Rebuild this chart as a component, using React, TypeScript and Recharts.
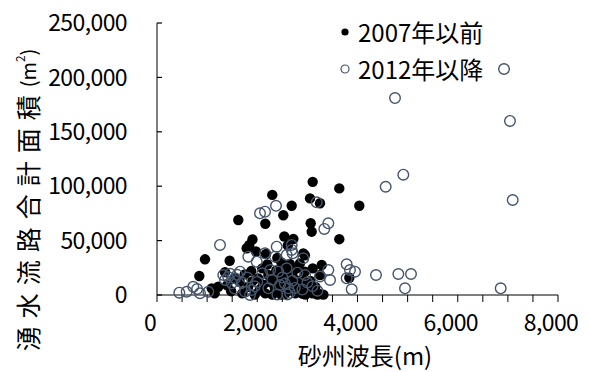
import React from 'react';
import { ScatterChart, Scatter, XAxis, YAxis, Legend, Label } from 'recharts';

const seriesNames = ['2007年以前', '2012年以降'];
const xTitle = '砂州波長(m)';
const yTitle = '湧水流路合計面積';

const before2007: [number, number][] = [
  [3106, 104000], [3637, 98000], [2300, 92000], [3052, 88800], [3252, 84300], [2687, 82000],
  [4036, 82000], [2520, 73300], [1622, 68900], [2161, 65500], [3066, 65900], [3086, 58200],
  [2540, 53800], [2720, 51500], [1905, 51000], [3637, 51300], [1842, 46000], [1789, 43000],
  [1975, 40000], [2175, 37700], [2919, 38300], [2950, 36500], [958, 32800], [1450, 31500],
  [3286, 27600], [2787, 24500], [3106, 24500], [3252, 18400], [3837, 15900], [844, 17500],
  [2221, 18400], [2021, 15300], [1357, 21000], [2610, 45500], [2400, 34000], [2480, 30000],
  [2650, 28500], [2850, 29000], [2560, 25000], [2380, 22500], [2950, 21500], [2700, 19500],
  [1750, 19000], [1550, 15500], [1091, 6100], [1223, 7600], [1400, 9000], [1480, 3500],
  [1650, 12000], [1700, 1500], [1820, 7500], [1900, 12500], [1950, 500], [2050, 5000],
  [2120, 9500], [2160, 1500], [2260, 12000], [2300, 300], [2350, 6500], [2420, 2500],
  [2460, 14500], [2500, 9000], [2550, 800], [2600, 4500], [2650, 11500], [2720, 15500],
  [2760, 1500], [2810, 7500], [2860, 11000], [2900, 1200], [2960, 400], [3020, 3500],
  [3060, 13000], [3100, 1500], [3160, 7500], [3200, 300], [3260, 800], [3320, 300],
  [3000, 8500], [2900, 14500], [2300, 16500], [1150, 1500], [2100, 24500], [2200, 28000],
  [1880, 22000], [2450, 19000], [2580, 20500], [2350, 9500], [2700, 5000], [2480, 500],
];

const after2012: [number, number][] = [
  [6923, 207700], [4748, 181000], [7042, 160000], [4914, 110600], [4562, 99500], [7096, 87300],
  [4815, 19300], [5067, 19300], [4948, 6100], [6857, 6100], [4369, 18400], [3950, 21400],
  [3884, 5200], [2374, 82000], [2155, 76600], [2055, 75100], [3186, 85200], [3418, 65900],
  [3338, 60700], [1257, 46000], [2388, 44400], [2687, 46000], [2707, 38300], [2919, 33700],
  [2155, 38300], [1822, 35200], [1989, 30600], [2354, 35200], [2587, 36800], [2687, 41400],
  [3784, 28200], [3850, 23000], [3418, 23000], [3452, 13800], [2953, 18400], [3250, 17000],
  [3784, 15300], [2587, 24500], [2420, 21400], [1656, 21400], [1556, 15300], [1490, 10700],
  [1323, 18400], [1357, 13800], [2454, 9200], [2221, 6100], [2620, 6100], [1856, 0],
  [1756, 3000], [1889, 4600], [445, 2100], [592, 3000], [724, 7600], [858, 1600],
  [1024, 3000], [800, 5500], [1420, 16500], [1460, 19500], [1600, 18500], [1700, 11500],
  [2000, 12000], [2100, 20000], [2300, 14000], [2500, 16000], [2550, 10500], [2650, 2000],
  [2700, 13000], [2800, 20500], [3000, 11500], [3100, 8000], [3200, 4000], [2750, 6500],
  [2900, 5000], [1950, 8000], [1800, 16000], [1550, 6000], [2400, 500], [2600, 500],
  [2260, 23000],
];

const xTicks = [0, 500, 1000, 1500, 2000, 2500, 3000, 3500, 4000, 4500, 5000, 5500, 6000, 6500, 7000, 7500, 8000];
const xLabelTicks = [0, 2000, 4000, 6000, 8000];
const yTicks = [0, 50000, 100000, 150000, 200000, 250000];

const FONT = '"Noto Sans CJK JP", "Noto Sans", sans-serif';
const RING = '#44546a';

const toPoints = (arr: [number, number][]) => arr.map(([x, y]) => ({ x, y }));
const fmt = (v: number) => v.toLocaleString('en-US');

const FilledDot = (p: any) => <circle cx={p.cx} cy={p.cy} r={5.2} fill="#000" />;
const RingDot = (p: any) => <circle cx={p.cx} cy={p.cy} r={5.3} fill="none" stroke={RING} strokeWidth={1.4} />;

// y tick: label right-aligned, tick mark pointing into the plot
const Y_MARGIN = 30;
const Y_TICK_IN = 5;
const YTick = (p: any) => {
  const ax = p.x + Y_MARGIN;
  return (
    <g>
      <line x1={ax} x2={ax + Y_TICK_IN} y1={p.y} y2={p.y} stroke="#000" strokeWidth={1.2} />
      <text x={p.x} y={p.y} dy="0.36em" textAnchor="end" fontSize={23} letterSpacing={-0.6} fontFamily={FONT} fill="#000">
        {fmt(p.payload.value)}
      </text>
    </g>
  );
};

const XTick = (p: any) => {
  const v = p.payload.value;
  if (!xLabelTicks.includes(v)) return <g />;
  return (
    <text x={p.x - 7} y={p.y} dy="0.71em" textAnchor="middle" fontSize={23} letterSpacing={-0.6} fontFamily={FONT} fill="#000">
      {fmt(v)}
    </text>
  );
};

const LegendBox = () => (
  <div style={{ fontFamily: FONT, fontSize: 24, color: '#000' }}>
    {seriesNames.map((name, i) => (
      <div key={name} style={{ display: 'flex', alignItems: 'center', height: 37, whiteSpace: 'nowrap' }}>
        <svg width={14} height={14} style={{ flex: 'none' }}>
          {i === 0 ? (
            <circle cx={7} cy={7} r={3.6} fill="#000" />
          ) : (
            <circle cx={7} cy={7} r={4} fill="none" stroke={RING} strokeWidth={1.2} />
          )}
        </svg>
        <span style={{ marginLeft: 6, lineHeight: '37px' }}>{name}</span>
      </div>
    ))}
  </div>
);

export default function App() {
  return (
    <div style={{ position: 'absolute', left: 0, top: 0, background: '#fff' }}>
      <ScatterChart width={589} height={372} margin={{ top: 23, right: 31, bottom: 0, left: 0 }} style={{ fontFamily: FONT }}>
        <XAxis
          type="number"
          dataKey="x"
          domain={[0, 8000]}
          ticks={xTicks}
          interval={0}
          height={77}
          tickSize={7}
          tickMargin={13}
          axisLine={{ stroke: '#000', strokeWidth: 1 }}
          tickLine={{ stroke: '#000', strokeWidth: 1 }}
          tick={<XTick />}
        >
          <Label
            content={() => (
              <text x={365} y={354} textAnchor="middle" dominantBaseline="central" fontSize={24} fontFamily={FONT} fill="#000">
                {xTitle}
              </text>
            )}
          />
        </XAxis>
        <YAxis
          type="number"
          dataKey="y"
          domain={[0, 250000]}
          ticks={yTicks}
          interval={0}
          width={157}
          tickSize={0}
          tickMargin={Y_MARGIN}
          axisLine={{ stroke: '#000', strokeWidth: 1 }}
          tickLine={false}
          tick={<YTick />}
        >
          <Label
            content={() => (
              <text
                x={27}
                y={200}
                transform="rotate(-90, 27, 200)"
                textAnchor="middle"
                dominantBaseline="central"
                fontSize={25}
                fontFamily={FONT}
                fill="#000"
              >
                <tspan letterSpacing={8}>{yTitle}</tspan>
                <tspan fontSize={20}>(m</tspan>
                <tspan fontSize={12} dy={-8}>2</tspan>
                <tspan fontSize={20} dy={8}>)</tspan>
              </text>
            )}
          />
        </YAxis>
        <Legend
          layout="vertical"
          align="center"
          verticalAlign="middle"
          wrapperStyle={{ left: 338, top: 13, width: 220 }}
          content={() => <LegendBox />}
        />
        <Scatter name={seriesNames[0]} data={toPoints(before2007)} shape={FilledDot} isAnimationActive={false} />
        <Scatter name={seriesNames[1]} data={toPoints(after2012)} shape={RingDot} isAnimationActive={false} />
      </ScatterChart>
    </div>
  );
}
